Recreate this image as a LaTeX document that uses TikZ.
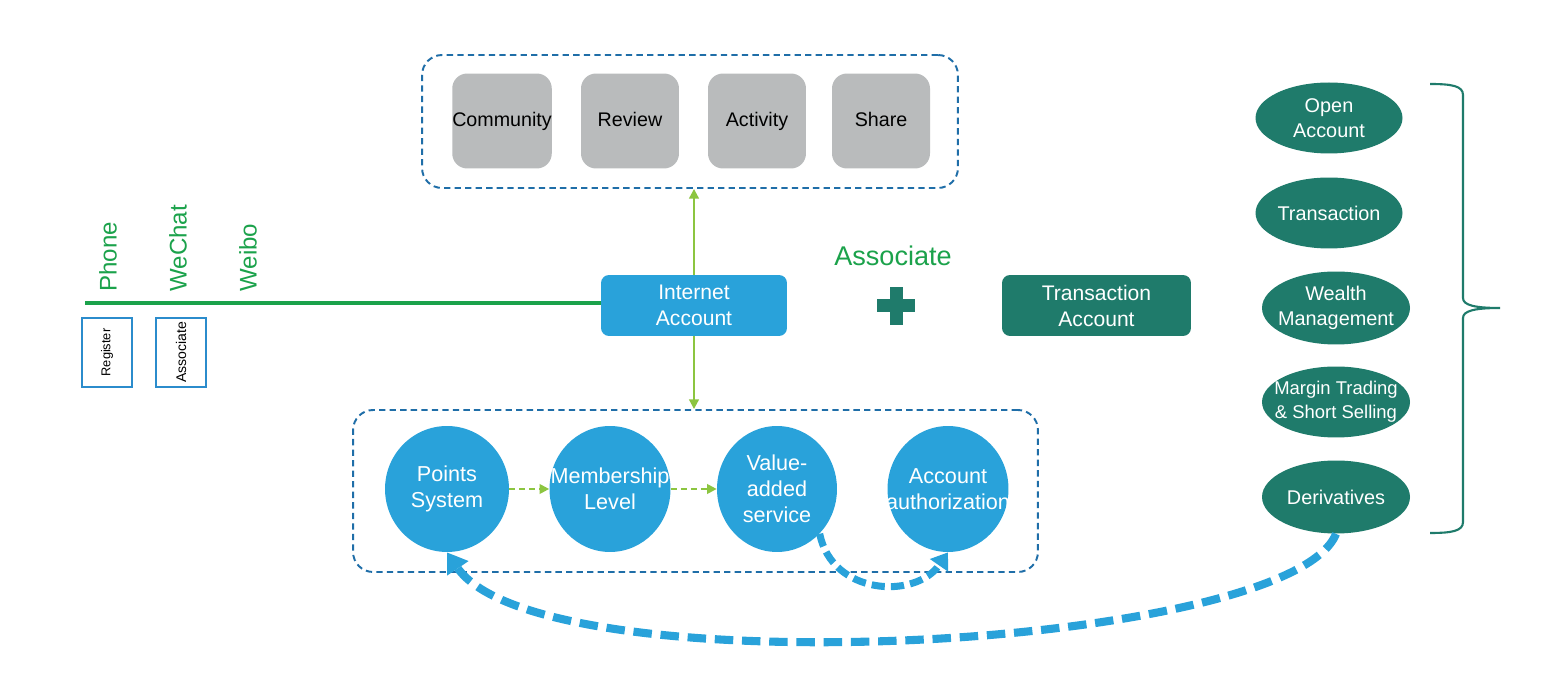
\documentclass[tikz,border=0pt]{standalone}
\usepackage{fontspec}
\setmainfont{Liberation Sans}
\usetikzlibrary{arrows.meta,shapes.geometric}
\definecolor{cblue}{HTML}{29A2DA}
\definecolor{cteal}{HTML}{1F7B6B}
\definecolor{cgray}{HTML}{B9BBBC}
\definecolor{cdash}{HTML}{1F6EA8}
\definecolor{cgreen}{HTML}{1BA24B}
\definecolor{clgreen}{HTML}{8CC540}
\definecolor{cobox}{HTML}{2B8CCC}
\tikzset{
  container/.style={draw=cdash, line width=1.1pt, dash pattern=on 3.6pt off 2.4pt, rounded corners=0.4cm, inner sep=0},
  graybox/.style={fill=cgray, rounded corners=0.3cm, minimum width=1.96cm, minimum height=1.9cm, inner sep=0, text height=1.45ex, text depth=0.3ex, font=\fontsize{11.2}{13}\selectfont},
  acct/.style={rounded corners=0.16cm, minimum height=1.22cm, inner sep=0, text=white, align=center, font=\fontsize{12}{14.8}\selectfont},
  circ/.style={ellipse, fill=cblue, minimum width=2.48cm, minimum height=2.52cm, inner sep=0},
  ctext/.style={inner sep=0, text=white, align=center, font=\fontsize{12.3}{14.8}\selectfont},
  oval/.style={ellipse, fill=cteal, minimum width=2.94cm, minimum height=1.42cm, inner sep=0},
  otext/.style={inner sep=0, text=white, align=center, font=\fontsize{11.3}{14.2}\selectfont},
  chan/.style={rotate=90, anchor=west, inner sep=0, text=cgreen, font=\fontsize{13.7}{16}\selectfont},
  obox/.style={draw=cobox, line width=1.1pt, rotate=90, minimum width=1.38cm, minimum height=1cm, inner sep=0},
  garrow/.style={draw=clgreen, line width=1.2pt, -{Triangle[width=5.5pt,length=5.5pt]}},
  gdash/.style={garrow, dash pattern=on 3.4pt off 2.3pt},
  barrow/.style={draw=cblue, line width=4.6pt, dash pattern=on 10.5pt off 5pt, -{Triangle[width=14pt,length=11pt]}},
  sarrow/.style={draw=cblue, line width=4pt, dash pattern=on 7.5pt off 3.5pt, -{Triangle[width=12pt,length=9pt]}},
}
\begin{document}
\begin{tikzpicture}[x=0.02cm,y=-0.02cm]
\useasboundingbox[fill=white] (0,0) rectangle (1552,688);

% top container
\node[container, minimum width=10.72cm, minimum height=2.66cm] (top) at (690,121.5) {};
\node[graybox] (community) at (502,121) {Community};
\node[graybox] (review) at (630,121) {Review};
\node[graybox] (activity) at (757,121) {Activity};
\node[graybox] (share) at (881,121) {Share};

% accounts
\node[acct, fill=cblue, minimum width=3.72cm] (ia) at (694,305.5) {Internet\\Account};
\node[acct, fill=cteal, minimum width=3.78cm] (ta) at (1096.5,305.5) {Transaction\\Account};

% green line and channels
\coordinate (lstart) at (85,303);
\draw[cgreen, line width=2.3pt] (lstart) -- (ia.west |- lstart);
\node[chan] (phone) at (108,292) {Phone};
\node[chan] (wechat) at (178,292) {WeChat};
\node[chan] (weibo) at (248,292) {Weibo};
\node[obox] (reg) at (107,352.5) {\fontsize{7.3}{9}\selectfont Register};
\node[obox] (assoc) at (181,352.5) {\fontsize{8}{9}\selectfont Associate};

% associate + plus
\node[text=cgreen, font=\fontsize{15.4}{18}\selectfont] (assoclbl) at (893,256) {Associate};
\node[inner sep=0] (plus) at (896,306) {};
\fill[cteal] (877,299.5) rectangle (915,312.5);
\fill[cteal] (889.5,287) rectangle (902.5,325);

% bottom container
\node[container, minimum width=13.7cm, minimum height=3.24cm] (bot) at (695.5,491) {};
\node[circ] (pts) at (447,489) {};
\node[circ, minimum width=2.42cm] (mem) at (610,489) {};
\node[circ, minimum width=2.40cm] (val) at (777,489) {};
\node[circ, minimum width=2.42cm] (acc) at (948,489) {};
\node[ctext] (ptst) at (pts) {Points\\System};
\node[ctext] (memt) at (mem) {Membership\\Level};
\node[ctext] (valt) at (val) {Value-\\added\\service};
\node[ctext] (acct) at (acc) {Account\\authorization};

% vertical arrows
\draw[garrow] (ia.north) -- (ia.north |- top.south);
\draw[garrow] (ia.south) -- (ia.south |- bot.north);

% dashed green arrows
\draw[gdash] (pts.east) -- (mem.west);
\draw[gdash] (mem.east) -- (val.west);

% right ovals
\node[oval] (open) at (1329,118) {};
\node[oval] (trans) at (1329,213) {};
\node[oval, minimum width=2.96cm, minimum height=1.46cm] (wealth) at (1336,308) {};
\node[oval, minimum width=2.96cm] (margin) at (1336,402) {};
\node[oval, minimum width=2.96cm, minimum height=1.46cm] (der) at (1336,497) {};
\node[otext] (opent) at (open) {Open\\Account};
\node[otext] (transt) at (trans) {Transaction};
\node[otext] (wealtht) at (wealth) {Wealth\\Management};
\node[otext, font=\fontsize{10.5}{13.5}\selectfont] (margint) at (margin) {Margin Trading\\\& Short Selling};
\node[otext] (dert) at (der) {Derivatives};

% brace
\draw[cteal, line width=1.2pt] (1430,84) .. controls (1452,84) and (1463,86) .. (1463,95)
  -- (1463,298) .. controls (1463,305) and (1474,308) .. (1500,308)
  .. controls (1474,308) and (1463,311) .. (1463,318)
  -- (1463,522) .. controls (1463,531) and (1452,533) .. (1430,533);

% curved blue arrows
\draw[sarrow] (val.south east) .. controls (832,595) and (915,600) .. (acc.south);
\draw[barrow] (der.south) .. controls (1290,650) and (540,690) .. (pts.south);
\end{tikzpicture}
\end{document}
